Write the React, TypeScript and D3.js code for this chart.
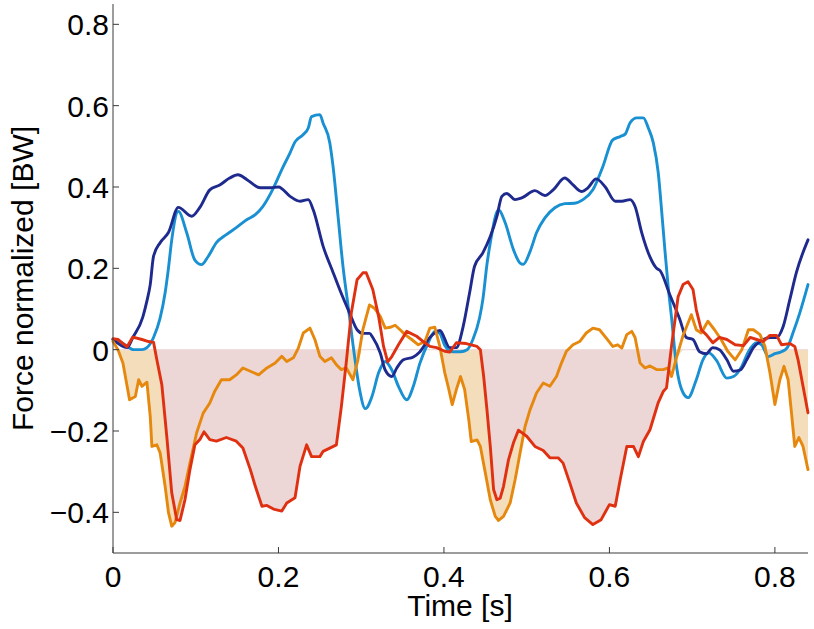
import React from "react";
import * as d3 from "d3";

type P = [number, number];

const xTicks = [0, 0.2, 0.4, 0.6, 0.8];
const yTicks = [-0.4, -0.2, 0, 0.2, 0.4, 0.6, 0.8];

const navyData: P[] = [[0,0.025],[0.017,0.005],[0.024,0.03],[0.036,0.08],[0.041,0.12],[0.045,0.16],[0.049,0.23],[0.057,0.263],[0.067,0.288],[0.079,0.35],[0.095,0.328],[0.105,0.35],[0.117,0.393],[0.129,0.405],[0.141,0.422],[0.151,0.43],[0.162,0.418],[0.178,0.398],[0.19,0.398],[0.2,0.4],[0.214,0.377],[0.226,0.365],[0.236,0.369],[0.242,0.344],[0.254,0.254],[0.266,0.19],[0.274,0.148],[0.286,0.09],[0.295,0.049],[0.302,0.04],[0.31,0.04],[0.314,0.03],[0.323,-0.008],[0.329,-0.05],[0.337,-0.066],[0.343,-0.045],[0.351,-0.025],[0.363,-0.018],[0.371,-0.005],[0.383,0.03],[0.395,0.047],[0.407,0.005],[0.415,0.005],[0.423,0.055],[0.431,0.14],[0.437,0.205],[0.447,0.238],[0.456,0.278],[0.464,0.328],[0.47,0.377],[0.476,0.384],[0.486,0.369],[0.494,0.373],[0.51,0.391],[0.522,0.379],[0.532,0.393],[0.546,0.422],[0.556,0.405],[0.566,0.389],[0.574,0.398],[0.584,0.42],[0.595,0.4],[0.607,0.365],[0.615,0.365],[0.625,0.369],[0.631,0.352],[0.639,0.288],[0.649,0.228],[0.657,0.2],[0.661,0.195],[0.673,0.135],[0.685,0.075],[0.693,0.03],[0.701,0.025],[0.709,-0.005],[0.717,-0.01],[0.725,0.005],[0.733,0.0],[0.742,-0.025],[0.75,-0.053],[0.758,-0.05],[0.766,-0.025],[0.774,0.005],[0.782,0.02],[0.794,0.03],[0.802,0.03],[0.81,0.057],[0.818,0.123],[0.826,0.19],[0.84,0.27]];

const lightBlueData: P[] = [[0,0.025],[0.012,0.015],[0.025,0.0],[0.035,0.0],[0.041,0.005],[0.049,0.03],[0.057,0.078],[0.063,0.14],[0.067,0.2],[0.071,0.27],[0.079,0.34],[0.089,0.288],[0.099,0.22],[0.107,0.209],[0.115,0.229],[0.125,0.263],[0.137,0.283],[0.149,0.3],[0.162,0.32],[0.172,0.332],[0.181,0.352],[0.194,0.398],[0.204,0.443],[0.214,0.484],[0.22,0.511],[0.23,0.529],[0.236,0.545],[0.24,0.573],[0.25,0.578],[0.254,0.557],[0.262,0.509],[0.266,0.45],[0.272,0.328],[0.278,0.204],[0.284,0.11],[0.292,-0.017],[0.298,-0.098],[0.305,-0.145],[0.313,-0.115],[0.321,-0.057],[0.329,-0.029],[0.337,-0.05],[0.345,-0.09],[0.355,-0.123],[0.363,-0.09],[0.371,-0.033],[0.381,0.017],[0.389,0.045],[0.395,0.04],[0.401,0.01],[0.41,-0.005],[0.42,-0.005],[0.428,0.0],[0.435,0.025],[0.443,0.078],[0.447,0.123],[0.452,0.21],[0.456,0.263],[0.466,0.344],[0.474,0.312],[0.484,0.246],[0.492,0.213],[0.496,0.21],[0.504,0.241],[0.512,0.288],[0.522,0.324],[0.534,0.349],[0.546,0.359],[0.558,0.36],[0.568,0.369],[0.58,0.393],[0.592,0.45],[0.604,0.516],[0.613,0.524],[0.619,0.53],[0.625,0.558],[0.633,0.57],[0.641,0.57],[0.647,0.545],[0.653,0.509],[0.659,0.435],[0.663,0.344],[0.667,0.246],[0.671,0.155],[0.675,0.08],[0.681,-0.04],[0.689,-0.106],[0.695,-0.118],[0.705,-0.074],[0.713,-0.025],[0.72,-0.008],[0.729,-0.025],[0.742,-0.07],[0.75,-0.066],[0.76,-0.041],[0.768,-0.005],[0.778,0.017],[0.784,0.012],[0.792,-0.017],[0.8,-0.01],[0.808,-0.005],[0.815,0.005],[0.822,0.042],[0.83,0.09],[0.84,0.16]];

const redData: P[] = [[0,0.027],[0.006,0.025],[0.017,0.007],[0.024,0.031],[0.035,0.025],[0.043,0.02],[0.049,0.018],[0.053,-0.025],[0.059,-0.086],[0.065,-0.213],[0.071,-0.352],[0.077,-0.418],[0.081,-0.42],[0.087,-0.369],[0.093,-0.295],[0.099,-0.234],[0.105,-0.221],[0.11,-0.202],[0.117,-0.221],[0.125,-0.225],[0.137,-0.216],[0.149,-0.225],[0.157,-0.242],[0.166,-0.295],[0.172,-0.336],[0.18,-0.385],[0.186,-0.383],[0.194,-0.392],[0.204,-0.397],[0.21,-0.377],[0.22,-0.364],[0.226,-0.287],[0.234,-0.234],[0.24,-0.263],[0.25,-0.263],[0.254,-0.25],[0.27,-0.234],[0.276,-0.14],[0.282,-0.03],[0.288,0.09],[0.295,0.172],[0.302,0.189],[0.306,0.189],[0.314,0.148],[0.321,0.082],[0.327,0.008],[0.332,-0.03],[0.337,-0.017],[0.345,0.012],[0.355,0.045],[0.367,0.033],[0.375,0.02],[0.383,0.008],[0.391,0.005],[0.401,-0.004],[0.407,-0.006],[0.415,0.017],[0.427,0.015],[0.44,0.008],[0.444,0.0],[0.448,-0.066],[0.452,-0.148],[0.456,-0.238],[0.46,-0.344],[0.464,-0.369],[0.468,-0.365],[0.472,-0.336],[0.478,-0.271],[0.484,-0.229],[0.49,-0.198],[0.5,-0.213],[0.51,-0.238],[0.52,-0.248],[0.528,-0.266],[0.538,-0.266],[0.544,-0.279],[0.552,-0.327],[0.56,-0.377],[0.57,-0.413],[0.58,-0.43],[0.59,-0.418],[0.6,-0.381],[0.607,-0.385],[0.613,-0.32],[0.621,-0.238],[0.629,-0.238],[0.635,-0.263],[0.641,-0.226],[0.649,-0.197],[0.659,-0.13],[0.665,-0.103],[0.669,-0.094],[0.675,0.008],[0.683,0.13],[0.689,0.16],[0.695,0.167],[0.701,0.148],[0.705,0.098],[0.711,0.049],[0.717,0.037],[0.725,0.017],[0.733,0.03],[0.742,0.025],[0.752,0.012],[0.762,0.01],[0.77,0.03],[0.778,0.025],[0.786,0.02],[0.794,0.035],[0.802,0.035],[0.808,0.012],[0.818,0.015],[0.824,0.008],[0.828,-0.025],[0.834,-0.09],[0.84,-0.155]];

const orangeData: P[] = [[0,0.02],[0.006,0.0],[0.012,-0.033],[0.02,-0.123],[0.027,-0.115],[0.031,-0.074],[0.035,-0.09],[0.041,-0.08],[0.045,-0.164],[0.047,-0.238],[0.053,-0.234],[0.057,-0.254],[0.063,-0.336],[0.067,-0.4],[0.071,-0.434],[0.075,-0.425],[0.081,-0.377],[0.087,-0.336],[0.093,-0.279],[0.101,-0.205],[0.109,-0.156],[0.117,-0.131],[0.123,-0.102],[0.131,-0.074],[0.141,-0.074],[0.149,-0.062],[0.157,-0.045],[0.166,-0.053],[0.176,-0.062],[0.186,-0.045],[0.196,-0.033],[0.204,-0.016],[0.21,-0.029],[0.218,-0.02],[0.224,0.004],[0.23,0.041],[0.238,0.053],[0.244,0.025],[0.25,-0.016],[0.256,-0.029],[0.264,-0.02],[0.27,-0.037],[0.276,-0.049],[0.282,-0.045],[0.29,-0.074],[0.296,-0.025],[0.302,0.049],[0.31,0.11],[0.316,0.102],[0.323,0.082],[0.329,0.053],[0.335,0.055],[0.341,0.06],[0.347,0.049],[0.353,0.037],[0.361,0.025],[0.369,0.012],[0.377,0.02],[0.383,0.053],[0.389,0.055],[0.395,0.008],[0.401,-0.057],[0.405,-0.09],[0.41,-0.135],[0.415,-0.098],[0.42,-0.066],[0.425,-0.098],[0.43,-0.172],[0.433,-0.226],[0.44,-0.222],[0.444,-0.238],[0.45,-0.303],[0.456,-0.369],[0.462,-0.41],[0.466,-0.42],[0.472,-0.41],[0.48,-0.377],[0.486,-0.32],[0.492,-0.254],[0.498,-0.189],[0.504,-0.148],[0.512,-0.106],[0.52,-0.082],[0.528,-0.09],[0.536,-0.066],[0.542,-0.033],[0.548,-0.004],[0.556,0.012],[0.564,0.02],[0.572,0.041],[0.58,0.053],[0.588,0.049],[0.596,0.029],[0.604,0.008],[0.61,0.012],[0.615,0.004],[0.621,0.037],[0.627,0.045],[0.631,0.03],[0.637,-0.033],[0.643,-0.045],[0.649,-0.04],[0.657,-0.049],[0.665,-0.049],[0.671,-0.045],[0.675,-0.066],[0.681,-0.02],[0.689,0.035],[0.699,0.086],[0.705,0.049],[0.711,0.041],[0.719,0.07],[0.727,0.049],[0.735,0.025],[0.743,-0.004],[0.752,-0.025],[0.76,0.0],[0.768,0.049],[0.774,0.049],[0.782,0.037],[0.788,0.008],[0.794,-0.057],[0.8,-0.135],[0.806,-0.074],[0.811,-0.041],[0.816,-0.074],[0.82,-0.155],[0.824,-0.238],[0.829,-0.216],[0.834,-0.238],[0.84,-0.295]];

const pinkIntervals: P[] = [[0.051, 0.283], [0.443, 0.674]];
const tanIntervals: P[] = [[0, 0.3], [0.395, 0.7], [0.785, 0.84]];

const W = 814;
const H = 629;
const FONT = "'Liberation Sans', Arial, Helvetica, sans-serif";

export default function App() {
  const x = d3.scaleLinear().domain([0, 0.84]).range([113, 808]);
  const y = d3.scaleLinear().domain([-0.5, 0.85]).range([553, 4]);

  const lineLin = d3.line<P>().x((d) => x(d[0])).y((d) => y(d[1]));
  const lineSmooth = d3
    .line<P>()
    .x((d) => x(d[0]))
    .y((d) => y(d[1]))
    .curve(d3.curveMonotoneX);
  const area = d3
    .area<P>()
    .x((d) => x(d[0]))
    .y0(y(0))
    .y1((d) => y(Math.min(d[1], 0)));

  const fmt = (v: number) =>
    v === 0 ? "0" : (v < 0 ? "\u2212" : "") + String(Math.abs(v));

  const axisColor = "#3a3a3a";

  return (
    <svg
      width={W}
      height={H}
      style={{ position: "absolute", left: 0, top: 0, background: "#fff" }}
      fontFamily={FONT}
    >
      <defs>
        {tanIntervals.map((iv, i) => (
          <clipPath id={`tan${i}`} key={`ct${i}`}>
            <rect x={x(iv[0])} y={0} width={x(iv[1]) - x(iv[0])} height={H} />
          </clipPath>
        ))}
        {pinkIntervals.map((iv, i) => (
          <clipPath id={`pink${i}`} key={`cp${i}`}>
            <rect x={x(iv[0])} y={0} width={x(iv[1]) - x(iv[0])} height={H} />
          </clipPath>
        ))}
      </defs>

      {tanIntervals.map((_, i) => (
        <path
          key={`ta${i}`}
          d={area(orangeData) || ""}
          fill="#f3ddbb"
          clipPath={`url(#tan${i})`}
        />
      ))}
      {pinkIntervals.map((_, i) => (
        <path
          key={`pa${i}`}
          d={area(redData) || ""}
          fill="#ecd6d6"
          clipPath={`url(#pink${i})`}
        />
      ))}
      <line x1={x(0)} x2={x(0.84)} y1={y(0)} y2={y(0)} stroke="#efdcdc" strokeWidth={1.2} />

      <g fill="none" strokeWidth={2.9} strokeLinejoin="round" strokeLinecap="round">
        <path d={lineSmooth(lightBlueData) || ""} stroke="#1990d2" />
        <path d={lineSmooth(navyData) || ""} stroke="#1f2a8e" />
        <path d={lineLin(orangeData) || ""} stroke="#e6880e" />
        <path d={lineLin(redData) || ""} stroke="#df3112" />
      </g>

      {/* axes */}
      <line x1={x(0)} x2={x(0)} y1={y(0.85)} y2={y(-0.5)} stroke={axisColor} strokeWidth={1} />
      <line x1={x(0)} x2={x(0.84)} y1={y(-0.5)} y2={y(-0.5)} stroke={axisColor} strokeWidth={1} />
      {yTicks.map((t) => (
        <g key={`yt${t}`}>
          <line x1={x(0)} x2={x(0) + 6} y1={y(t)} y2={y(t)} stroke={axisColor} strokeWidth={1} />
          <text x={109} y={y(t) + 11} textAnchor="end" fontSize={30} fill="#000">
            {fmt(t)}
          </text>
        </g>
      ))}
      {xTicks.map((t) => (
        <g key={`xt${t}`}>
          <line x1={x(t)} x2={x(t)} y1={y(-0.5)} y2={y(-0.5) - 6} stroke={axisColor} strokeWidth={1} />
          <text x={x(t)} y={587} textAnchor="middle" fontSize={30} fill="#000">
            {fmt(t)}
          </text>
        </g>
      ))}
      <text x={460} y={616} textAnchor="middle" fontSize={30} fill="#000">
        Time [s]
      </text>
      <text
        transform={`translate(33, ${(y(0.85) + y(-0.5)) / 2}) rotate(-90)`}
        textAnchor="middle"
        fontSize={30}
        fill="#000"
      >
        Force normalized [BW]
      </text>
    </svg>
  );
}
